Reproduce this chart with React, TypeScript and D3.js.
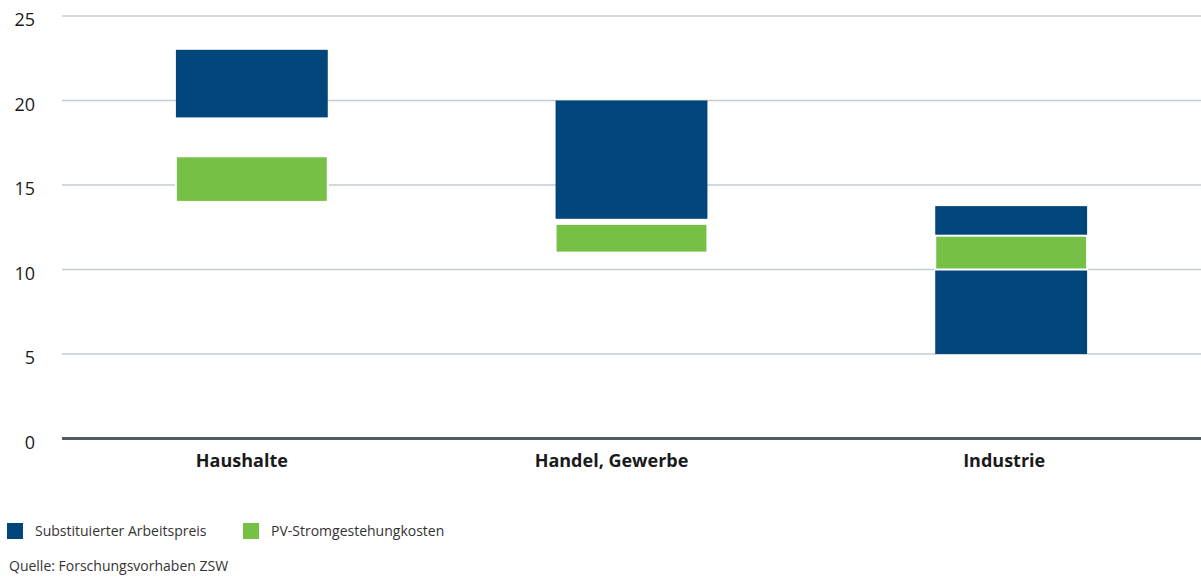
import React from "react";
import * as d3 from "d3";

const categories = ["Haushalte", "Handel, Gewerbe", "Industrie"];
const arbeitspreisLow = [19, 13, 5];
const arbeitspreisHigh = [23, 20, 13.75];
const pvLow = [14, 11, 10];
const pvHigh = [16.7, 12.7, 12];
const yTicks = [0, 5, 10, 15, 20, 25];
const seriesNames = ["Substituierter Arbeitspreis", "PV-Stromgestehungkosten"];
const source = "Quelle: Forschungsvorhaben ZSW";

// layout: horizontal nudge of each category label relative to its bar centre
const labelNudge = [-10, -20, -7];

const W = 1201;
const H = 578;
const BLUE = "#00467a";
const GREEN = "#76c045";
const FONT = "'Open Sans', 'Noto Sans', sans-serif";

export default function App() {
  const x = d3
    .scaleBand<string>()
    .domain(categories)
    .range([62, 1201])
    .paddingInner(0.6)
    .paddingOuter(0.3);
  const y = d3.scaleLinear().domain([0, 25]).range([438.5, 16]);

  return (
    <svg
      width={W}
      height={H}
      style={{ position: "absolute", left: 0, top: 0, background: "#fff" }}
      fontFamily={FONT}
    >
      {yTicks.map((t) =>
        t === 0 ? null : (
          <line key={t} x1={62} x2={W} y1={y(t)} y2={y(t)} stroke="#c3ccd3" strokeWidth={1.5} />
        )
      )}
      {yTicks.map((t) => (
        <text key={"l" + t} x={35} y={y(t) + 4} dy="0.35em" textAnchor="end" fontSize={18} fill="#1a1a1a">
          {t}
        </text>
      ))}
      {categories.map((c, i) => (
        <g key={c}>
          <rect
            x={x(c)}
            width={x.bandwidth()}
            y={y(arbeitspreisHigh[i])}
            height={y(arbeitspreisLow[i]) - y(arbeitspreisHigh[i])}
            fill={BLUE}
          />
          <rect
            x={x(c)}
            width={x.bandwidth()}
            y={y(pvHigh[i])}
            height={y(pvLow[i]) - y(pvHigh[i])}
            fill={GREEN}
            stroke="#fff"
            strokeWidth={2}
          />
        </g>
      ))}
      <line x1={62} x2={W} y1={y(0)} y2={y(0)} stroke="#4e5d68" strokeWidth={3} />
      {categories.map((c, i) => (
        <text
          key={"c" + c}
          x={(x(c) as number) + x.bandwidth() / 2 + labelNudge[i]}
          y={467}
          textAnchor="middle"
          fontSize={18}
          fontWeight="bold"
          fill="#1a1a1a"
        >
          {c}
        </text>
      ))}
      {seriesNames.map((s, i) => {
        const lx = i === 0 ? 7 : 243;
        return (
          <g key={s}>
            <rect x={lx} y={523} width={16} height={16} fill={i === 0 ? BLUE : GREEN} />
            <text x={lx + 28} y={531} dy="0.35em" fontSize={14} fill="#333">
              {s}
            </text>
          </g>
        );
      })}
      <text x={9} y={566} dy="0.35em" fontSize={14} fill="#333">
        {source}
      </text>
    </svg>
  );
}
